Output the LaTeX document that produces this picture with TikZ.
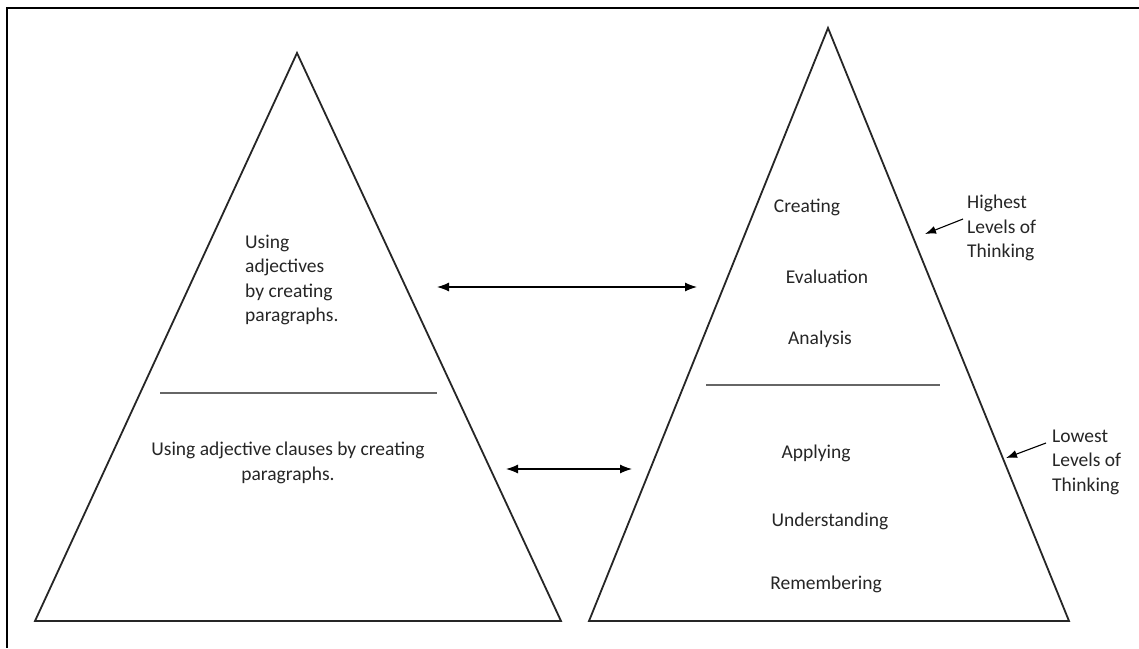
\documentclass[tikz,border=0pt]{standalone}
\usepackage{fontspec}
\setmainfont{Carlito}
\usetikzlibrary{arrows.meta}
\begin{document}
\begin{tikzpicture}[x=1pt,y=-1pt,
  edge/.style={draw=black!85,line width=1.8pt,line join=miter},
  sep/.style={draw=black!60,line width=1.2pt},
  dbl/.style={draw=black,line width=1.2pt,{Latex[length=12pt,width=9pt]}-{Latex[length=12pt,width=9pt]}},
  sgl/.style={draw=black,line width=1.1pt,-{Latex[length=11pt,width=8pt]}},
  lbl/.style={font=\fontsize{19.5}{24.5}\selectfont,text=black!85,inner sep=0pt},
  lblL/.style={lbl,align=left,anchor=west},
  lblC/.style={lbl,align=center}]
\useasboundingbox (0,0) rectangle (1139,648);
\fill[white] (0,0) rectangle (1139,648);
% frame (top and left edges)
\draw[black,line width=1.8pt] (1139,8) -- (7,8) -- (7,648);
% left triangle
\coordinate (LA) at (297,53);
\coordinate (LB) at (35,621);
\coordinate (LC) at (561,621);
\draw[edge] (LA) -- (LB) -- (LC) -- cycle;
% right triangle
\coordinate (RA) at (828,28);
\coordinate (RB) at (589,621);
\coordinate (RC) at (1069,621);
\draw[edge] (RA) -- (RB) -- (RC) -- cycle;
% separators
\coordinate (ls1) at (160,393); \coordinate (ls2) at (437,393);
\draw[sep] (ls1) -- (ls2);
\coordinate (rs1) at (706,385); \coordinate (rs2) at (940,385);
\draw[sep] (rs1) -- (rs2);
% left texts
\node[lblL] (t1) at (245,280) {Using\\adjectives\\by creating\\paragraphs.};
\node[lblC] (t2) at (288,463) {Using adjective clauses by creating\\paragraphs.};
% right texts
\node[lbl] (c1) at (807,207) {Creating};
\node[lbl] (c2) at (827,277) {Evaluation};
\node[lbl] (c3) at (820,339) {Analysis};
\node[lbl] (c4) at (816,453) {Applying};
\node[lbl] (c5) at (830,521) {Understanding};
\node[lbl] (c6) at (826,584) {Remembering};
% side labels
\node[lblL] (hi) at (967,228) {Highest\\Levels of\\Thinking};
\node[lblL] (lo) at (1052,462) {Lowest\\Levels of\\Thinking};
% double arrows
\coordinate (a1) at (437,287); \coordinate (a2) at (697,287);
\draw[dbl] (a1) -- (a2);
\coordinate (b1) at (506,469); \coordinate (b2) at (632,469);
\draw[dbl] (b1) -- (b2);
% single arrows
\coordinate (h1) at (963,219); \coordinate (h2) at (925,234);
\draw[sgl] (h1) -- (h2);
\coordinate (l1) at (1046,443); \coordinate (l2) at (1006,458);
\draw[sgl] (l1) -- (l2);
\end{tikzpicture}
\end{document}
